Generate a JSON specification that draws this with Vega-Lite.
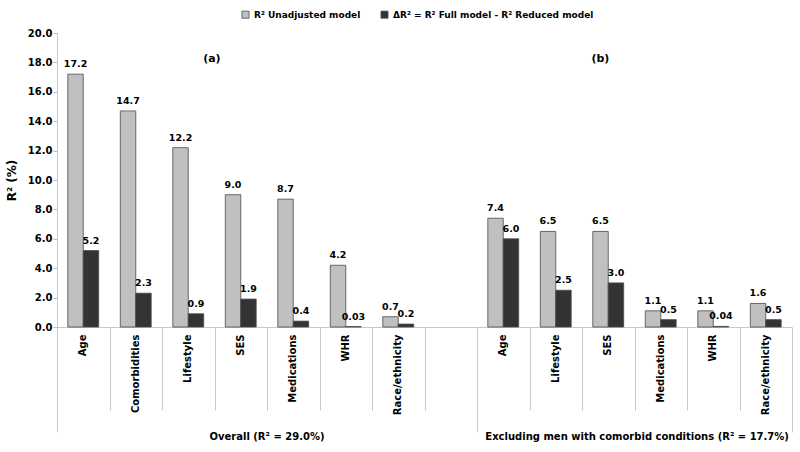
{
  "$schema": "https://vega.github.io/schema/vega-lite/v6.json",
  "width": 735,
  "height": 294,
  "autosize": {"type": "none"},
  "padding": {"left": 57, "top": 33, "right": 8, "bottom": 125},
  "background": "white",
  "config": {
    "font": "DejaVu Sans",
    "view": {"stroke": null},
    "axis": {"grid": false, "labelColor": "#000", "titleColor": "#000"},
    "axisY": {
      "values": [0, 2, 4, 6, 8, 10, 12, 14, 16, 18, 20],
      "format": ".1f",
      "labelFontSize": 10,
      "labelFontWeight": "bold",
      "labelPadding": 1,
      "tickSize": 4,
      "tickColor": "#bbbbbb",
      "domainColor": "#c8c8c8",
      "titleFontSize": 12,
      "titleFontWeight": "bold",
      "titlePadding": 9
    }
  },
  "layer": [
    {
      "data": {
        "values": [
          {"slot": "a|Age", "series": "unadj", "v": 17.2, "label": "17.2"},
          {"slot": "a|Age", "series": "delta", "v": 5.2, "label": "5.2"},
          {"slot": "a|Comorbidities", "series": "unadj", "v": 14.7, "label": "14.7"},
          {"slot": "a|Comorbidities", "series": "delta", "v": 2.3, "label": "2.3"},
          {"slot": "a|Lifestyle", "series": "unadj", "v": 12.2, "label": "12.2"},
          {"slot": "a|Lifestyle", "series": "delta", "v": 0.9, "label": "0.9"},
          {"slot": "a|SES", "series": "unadj", "v": 9.0, "label": "9.0"},
          {"slot": "a|SES", "series": "delta", "v": 1.9, "label": "1.9"},
          {"slot": "a|Medications", "series": "unadj", "v": 8.7, "label": "8.7"},
          {"slot": "a|Medications", "series": "delta", "v": 0.4, "label": "0.4"},
          {"slot": "a|WHR", "series": "unadj", "v": 4.2, "label": "4.2"},
          {"slot": "a|WHR", "series": "delta", "v": 0.03, "label": "0.03"},
          {"slot": "a|Race/ethnicity", "series": "unadj", "v": 0.7, "label": "0.7"},
          {"slot": "a|Race/ethnicity", "series": "delta", "v": 0.2, "label": "0.2"},
          {"slot": "b|Age", "series": "unadj", "v": 7.4, "label": "7.4"},
          {"slot": "b|Age", "series": "delta", "v": 6.0, "label": "6.0"},
          {"slot": "b|Lifestyle", "series": "unadj", "v": 6.5, "label": "6.5"},
          {"slot": "b|Lifestyle", "series": "delta", "v": 2.5, "label": "2.5"},
          {"slot": "b|SES", "series": "unadj", "v": 6.5, "label": "6.5"},
          {"slot": "b|SES", "series": "delta", "v": 3.0, "label": "3.0"},
          {"slot": "b|Medications", "series": "unadj", "v": 1.1, "label": "1.1"},
          {"slot": "b|Medications", "series": "delta", "v": 0.5, "label": "0.5"},
          {"slot": "b|WHR", "series": "unadj", "v": 1.1, "label": "1.1"},
          {"slot": "b|WHR", "series": "delta", "v": 0.04, "label": "0.04"},
          {"slot": "b|Race/ethnicity", "series": "unadj", "v": 1.6, "label": "1.6"},
          {"slot": "b|Race/ethnicity", "series": "delta", "v": 0.5, "label": "0.5"}
        ]
      },
      "encoding": {
        "x": {
          "field": "slot",
          "type": "nominal",
          "sort": null,
          "scale": {
            "domain": ["a|Age", "a|Comorbidities", "a|Lifestyle", "a|SES", "a|Medications", "a|WHR", "a|Race/ethnicity", "a|", "b|Age", "b|Lifestyle", "b|SES", "b|Medications", "b|WHR", "b|Race/ethnicity"],
            "paddingInner": 0,
            "paddingOuter": 0
          },
          "axis": {
            "orient": "bottom",
            "title": null,
            "ticks": false,
            "tickSize": 0,
            "domain": true,
            "domainColor": "#c8c8c8",
            "labelAngle": 270,
            "labelAlign": "right",
            "labelBaseline": "middle",
            "labelPadding": 7,
            "labelFontSize": 10,
            "labelFontWeight": "bold",
            "labelExpr": "split(datum.value, '|')[1]"
          }
        },
        "xOffset": {
          "field": "series",
          "type": "nominal",
          "sort": null,
          "scale": {"domain": ["unadj", "delta"], "paddingInner": 0, "paddingOuter": 0.7}
        },
        "y": {
          "field": "v",
          "type": "quantitative",
          "scale": {"domain": [0, 20], "nice": false},
          "title": "R² (%)"
        }
      },
      "layer": [
        {
          "mark": {"type": "bar", "stroke": "#4a4a4a", "strokeWidth": 0.8},
          "encoding": {
            "color": {
              "field": "series",
              "type": "nominal",
              "sort": null,
              "scale": {"domain": ["unadj", "delta"], "range": ["#c0c0c0", "#333333"]},
              "legend": {
                "orient": "none",
                "legendX": 184,
                "legendY": -23,
                "direction": "horizontal",
                "title": null,
                "symbolType": "square",
                "symbolSize": 50,
                "symbolStrokeColor": "#4a4a4a",
                "symbolStrokeWidth": 0.8,
                "labelFontSize": 9,
                "labelFontWeight": "bold",
                "labelColor": "#000",
                "labelLimit": 400,
                "columnPadding": 18,
                "labelExpr": "datum.value == 'unadj' ? 'R² Unadjusted model' : 'ΔR² = R² Full model - R² Reduced model'"
              }
            }
          }
        },
        {
          "mark": {"type": "text", "baseline": "bottom", "dy": -5, "fontSize": 9.5, "fontWeight": "bold", "color": "#000"},
          "encoding": {"text": {"field": "label"}}
        }
      ]
    },
    {
      "data": {"values": [{}]},
      "encoding": {
        "y": {"datum": 18.2, "type": "quantitative", "title": "R² (%)"}
      },
      "layer": [
        {
          "mark": {"type": "text", "fontSize": 11, "fontWeight": "bold", "color": "#000", "baseline": "middle"},
          "encoding": {
            "x": {
              "datum": 2.95,
              "type": "quantitative",
              "scale": {"domain": [0, 14], "nice": false, "zero": false},
              "axis": {
                "orient": "bottom",
                "values": [0, 1, 2, 3, 4, 5, 6, 7, 8, 9, 10, 11, 12, 13, 14],
                "labels": false,
                "domain": false,
                "grid": false,
                "title": null,
                "ticks": true,
                "tickColor": "#c8c8c8",
                "tickWidth": 1,
                "tickSize": {"condition": {"test": "datum.value == 0 || datum.value == 8 || datum.value == 14", "value": 105}, "value": 83}
              }
            },
            "text": {"value": "(a)"}
          }
        },
        {
          "mark": {"type": "text", "fontSize": 11, "fontWeight": "bold", "color": "#000", "baseline": "middle"},
          "encoding": {
            "x": {"datum": 10.35, "type": "quantitative"},
            "text": {"value": "(b)"}
          }
        },
        {
          "mark": {"type": "text", "fontSize": 10, "fontWeight": "bold", "color": "#000", "baseline": "middle"},
          "encoding": {
            "x": {"datum": 4, "type": "quantitative"},
            "y": {"datum": -7.45, "type": "quantitative", "title": "R² (%)"},
            "text": {"value": "Overall (R² = 29.0%)"}
          }
        },
        {
          "mark": {"type": "text", "fontSize": 10, "fontWeight": "bold", "color": "#000", "baseline": "middle"},
          "encoding": {
            "x": {"datum": 11.05, "type": "quantitative"},
            "y": {"datum": -7.45, "type": "quantitative", "title": "R² (%)"},
            "text": {"value": "Excluding men with comorbid conditions (R² = 17.7%)"}
          }
        }
      ]
    }
  ],
  "resolve": {"scale": {"x": "independent"}, "axis": {"x": "independent"}}
}
